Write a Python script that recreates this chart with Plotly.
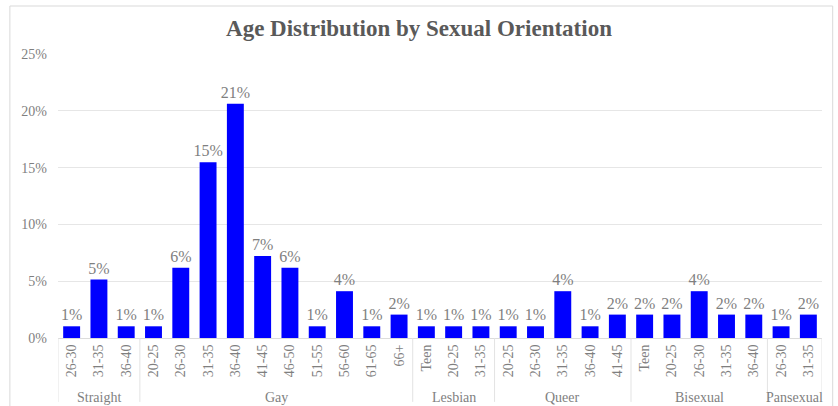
import plotly.graph_objects as go

orientations = ["Straight", "Gay", "Lesbian", "Queer", "Bisexual", "Pansexual"]
age_groups = [
    ["26-30", "31-35", "36-40"],
    ["20-25", "26-30", "31-35", "36-40", "41-45", "46-50", "51-55", "56-60", "61-65", "66+"],
    ["Teen", "20-25", "31-35"],
    ["20-25", "26-30", "31-35", "36-40", "41-45"],
    ["Teen", "20-25", "26-30", "31-35", "36-40"],
    ["26-30", "31-35"],
]
shares = [
    [0.0103, 0.0515, 0.0103],
    [0.0103, 0.0619, 0.1546, 0.2062, 0.0722, 0.0619, 0.0103, 0.0412, 0.0103, 0.0206],
    [0.0103, 0.0103, 0.0103],
    [0.0103, 0.0103, 0.0412, 0.0103, 0.0206],
    [0.0206, 0.0206, 0.0412, 0.0206, 0.0206],
    [0.0103, 0.0206],
]
y_ticks = [0, 0.05, 0.10, 0.15, 0.20, 0.25]

FONT = "Liberation Serif"
GRAY = "#595959"
LGRAY = "#7f7f7f"

ages = [a for grp in age_groups for a in grp]
values = [v for grp in shares for v in grp]
xpos = list(range(len(ages)))

fig = go.Figure(go.Bar(
    x=xpos, y=values,
    marker=dict(color="#0000FF", line=dict(width=0)),
    texttemplate="%{y:.0%}", textposition="outside", cliponaxis=False,
    constraintext="none",
    textfont=dict(family=FONT, size=16, color=LGRAY),
    hovertext=ages,
))

# group labels and dividers, derived from the group sizes
shapes = []
annotations = []
start = 0
bounds = [-0.5]
for name, grp in zip(orientations, age_groups):
    end = start + len(grp) - 1
    annotations.append(dict(x=(start + end) / 2, xref="x", y=-0.208, yref="paper",
                            text=name, showarrow=False, yanchor="middle",
                            font=dict(family=FONT, size=14, color=LGRAY)))
    bounds.append(end + 0.5)
    start = end + 1
for b in bounds:
    shapes.append(dict(type="line", xref="x", yref="paper", x0=b, x1=b, y0=0, y1=-0.225,
                       line=dict(color="#e3e3e3", width=1)))
shapes.append(dict(type="rect", xref="paper", yref="paper", x0=-0.063, x1=1.014, y0=-0.3, y1=1.169,
                   line=dict(color="#d9d9d9", width=1), layer="below"))

fig.update_layout(
    width=838, height=406,
    margin=dict(l=58, r=16, t=54, b=68),
    paper_bgcolor="white", plot_bgcolor="white",
    bargap=0.38,
    showlegend=False,
    title=dict(text="<b>Age Distribution by Sexual Orientation</b>", x=0.5, xanchor="center",
               y=0.931, yanchor="middle",
               font=dict(family=FONT, size=23, color=GRAY)),
    font=dict(family=FONT, color=LGRAY),
    shapes=shapes,
    annotations=annotations,
)
fig.update_yaxes(range=[0, 0.25], tickvals=y_ticks, tickformat=".0%",
                 showgrid=True, gridcolor="#e6e6e6", gridwidth=1, zeroline=False,
                 showline=False, ticks="", ticklabelstandoff=10,
                 tickfont=dict(family=FONT, size=14, color=LGRAY),
                 automargin=False)
fig.update_xaxes(range=[-0.5, len(ages) - 0.5], tickvals=xpos, ticktext=ages, tickangle=-90,
                 showline=True, linecolor="#dcdcdc", showgrid=False, zeroline=False,
                 tickfont=dict(family=FONT, size=14, color=LGRAY), ticks="",
                 automargin=False)

fig.write_html("out.html", config={"displayModeBar": False},
               post_script="document.body.style.margin='0';")
